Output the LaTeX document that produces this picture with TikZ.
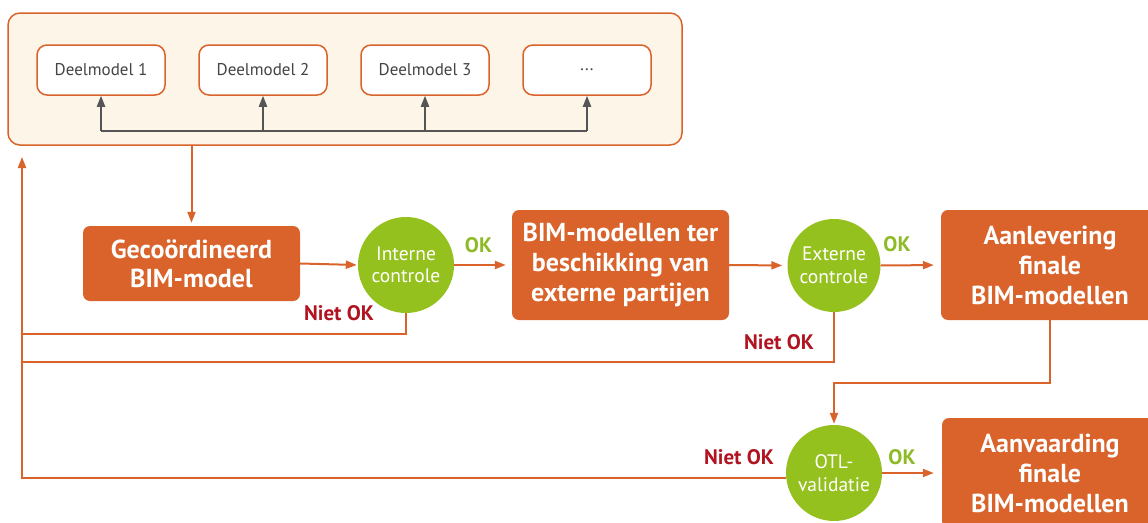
\documentclass[tikz,border=0pt]{standalone}
\usepackage{fontspec}
\setmainfont{PT Sans}
\usetikzlibrary{arrows.meta,positioning,calc}
\definecolor{vorange}{HTML}{D9632A}
\definecolor{vgreen}{HTML}{95C11F}
\definecolor{vokgreen}{HTML}{8DBA25}
\definecolor{vred}{HTML}{B01420}
\definecolor{vcream}{HTML}{FDF5E7}
\definecolor{vgray}{HTML}{555555}
\definecolor{vtext}{HTML}{444444}
\tikzset{
  container/.style={draw=vorange, line width=1.5pt, fill=vcream, rounded corners=12pt},
  deelbox/.style={draw=vorange, line width=1.5pt, fill=white, rounded corners=10pt,
    minimum width=128pt, minimum height=50pt, inner sep=0pt,
    font=\fontsize{17}{20}\selectfont, text=vtext},
  stapbox/.style={fill=vorange, rounded corners=7pt, inner sep=0pt, text=white,
    align=center, font=\bfseries\fontsize{26}{30}\selectfont},
  ctrl/.style={circle, fill=vgreen, inner sep=0pt, text=white, align=center,
    font=\fontsize{19.5}{22.5}\selectfont},
  flow/.style={draw=vorange, line width=2pt},
  arr/.style={flow, -{Triangle[length=11pt,width=8pt]}},
  grayarr/.style={draw=vgray, line width=2pt, -{Triangle[length=11pt,width=8pt]}},
  oklab/.style={text=vokgreen, font=\bfseries\fontsize{21}{24}\selectfont},
  nietlab/.style={text=vred, font=\bfseries\fontsize{21}{24}\selectfont},
}
\begin{document}
\begin{tikzpicture}[x=1pt,y=-1pt]
\useasboundingbox (0,0) rectangle (1148,522);
\clip (0,0) rectangle (1148,522);
% container with partial models
\node[container, minimum width=674pt, minimum height=132pt, inner sep=0pt] (cont) at (345,79) {};
\node[deelbox] (d1) at (101,70) {Deelmodel 1};
\node[deelbox] (d2) at (263,70) {Deelmodel 2};
\node[deelbox] (d3) at (425,70) {Deelmodel 3};
\node[deelbox] (d4) at (587,70) {...};
\coordinate (g1) at (101,131);
\coordinate (g4) at (587,131);
\draw[draw=vgray, line width=2pt] (g1) -- (g4);
\draw[grayarr] (g1) -- (d1.south);
\draw[grayarr] (d2.south |- g1) -- (d2.south);
\draw[grayarr] (d3.south |- g1) -- (d3.south);
\draw[grayarr] (g4) -- (d4.south);
% main steps
\node[stapbox, minimum width=217pt, minimum height=75pt, font=\bfseries\fontsize{26}{29}\selectfont] (geco) at (191.5,263.5) {Gecoördineerd\\BIM-model};
\node[ctrl, minimum size=96pt] (int) at (406,265) {Interne\\controle};
\node[stapbox, minimum width=217pt, minimum height=110pt] (bim) at (620.5,265) {BIM-modellen ter\\beschikking van\\externe partijen};
\node[ctrl, minimum size=93pt] (ext) at (834,265.5) {Externe\\controle};
\node[stapbox, minimum width=218pt, minimum height=110pt] (aan) at (1050,265) {Aanlevering\\finale\\BIM-modellen};
\node[ctrl, minimum size=96pt] (otl) at (834,473) {OTL-\\validatie};
\node[stapbox, minimum width=216pt, minimum height=110pt] (aanv) at (1050,473) {Aanvaarding\\finale\\BIM-modellen};
% forward flow
\draw[arr, shorten >=3pt] (geco.north |- cont.south) -- (geco.north);
\draw[arr, shorten >=1pt] (geco.east) -- (int.west);
\draw[arr, shorten >=6pt] (int.east) -- (bim.west);
\draw[arr, shorten >=5pt] (bim.east) -- (ext.west);
\draw[arr, shorten >=7pt] (ext.east) -- (aan.west);
\draw[arr, shorten >=1pt] (aan.south) -- (1050,383) -| (otl.north);
\draw[arr, shorten >=8pt] (otl.east) -- (aanv.west);
% feedback loops
\coordinate (lb) at (22,478);
\coordinate (lt) at (22,145);
\draw[arr, shorten >=12pt] (otl.west |- lb) -- (lb) -- (lt);
\draw[flow] (int.south) -- (406,334) -- (22,334);
\draw[flow] (ext.south) -- (834,362) -- (22,362);
% labels
\node[oklab] (ok1) at (478.5,245) {OK};
\node[oklab] (ok2) at (897,244) {OK};
\node[oklab] (ok3) at (902,457) {OK};
\node[nietlab] (n1) at (339,313) {Niet OK};
\node[nietlab] (n2) at (779,342) {Niet OK};
\node[nietlab] (n3) at (739,457) {Niet OK};
\end{tikzpicture}
\end{document}
